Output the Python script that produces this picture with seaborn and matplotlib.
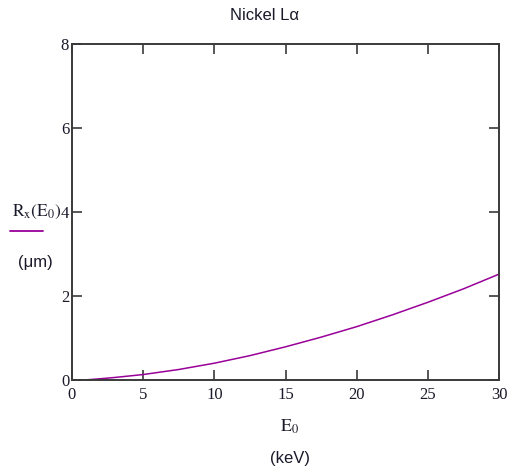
import numpy as np
import pandas as pd
import matplotlib
matplotlib.use("Agg")
import matplotlib.pyplot as plt
import seaborn as sns
from matplotlib.lines import Line2D

# values (X-ray range vs. beam energy)
energy_kev = [0, 0.85, 2, 3, 5, 7.5, 10, 12.5, 15, 17.5, 20, 22.5, 25, 27.5, 30]
range_um = [0, 0, 0.03, 0.06, 0.13, 0.25, 0.40, 0.58, 0.79, 1.02, 1.27, 1.55, 1.85, 2.17, 2.52]
x_ticks = [0, 5, 10, 15, 20, 25, 30]
y_ticks = [0, 2, 4, 6, 8]

df = pd.DataFrame({"E0": energy_kev, "Rx": range_um})

sns.set_style("white")
plt.rcParams["font.family"] = ["Liberation Sans", "DejaVu Sans"]
plt.rcParams["mathtext.fontset"] = "stix"

fig = plt.figure(figsize=(5.09, 4.71), dpi=100)
ax = fig.add_axes([72 / 509, 1 - 380 / 471, 427 / 509, 336 / 471])

purple = "#990099"
sns.lineplot(data=df, x="E0", y="Rx", ax=ax, color=purple, linewidth=1.1)

ax.set_xlim(0, 30)
ax.set_ylim(0, 8)
ax.set_xticks(x_ticks)
ax.set_yticks(y_ticks)
ax.set_xlabel("")
ax.set_ylabel("")

for s in ax.spines.values():
    s.set_color("#3a3a3a")
    s.set_linewidth(1.4)
    s.set_visible(True)

ax.tick_params(axis="both", which="major", direction="in", length=7.5, width=1.2,
               color="#3a3a3a", top=True, right=True, bottom=True, left=True,
               labelsize=12, labelcolor="#1a1a2a")
ax.tick_params(axis="x", pad=5)
ax.tick_params(axis="y", pad=2)
for lab in ax.get_xticklabels() + ax.get_yticklabels():
    lab.set_fontfamily("Liberation Serif")

# title and axis labels in Mathcad style
fig.text(264 / 509, 1 - 16 / 471, "Nickel L\u03b1", ha="center", va="center",
         fontsize=12, color="#1a1a2a")
fig.text(290 / 509, 1 - 427 / 471, r"$\mathrm{E_0}$", ha="center", va="center",
         fontsize=13, color="#1a1a2a")
fig.text(290 / 509, 1 - 458 / 471, "(keV)", ha="center", va="center",
         fontsize=12, color="#1a1a2a")
fig.text(12 / 509, 1 - 212 / 471, r"$\mathrm{R_x(E_0)}$", ha="left", va="center",
         fontsize=12.5, color="#1a1a2a")
fig.add_artist(Line2D([10 / 509, 43 / 509], [1 - 231 / 471, 1 - 231 / 471],
                      color=purple, linewidth=1.3, transform=fig.transFigure))
fig.text(35 / 509, 1 - 262 / 471, "(\u03bcm)", ha="center", va="center",
         fontsize=12, color="#1a1a2a")

fig.savefig("out.png", dpi=100, facecolor="white")
